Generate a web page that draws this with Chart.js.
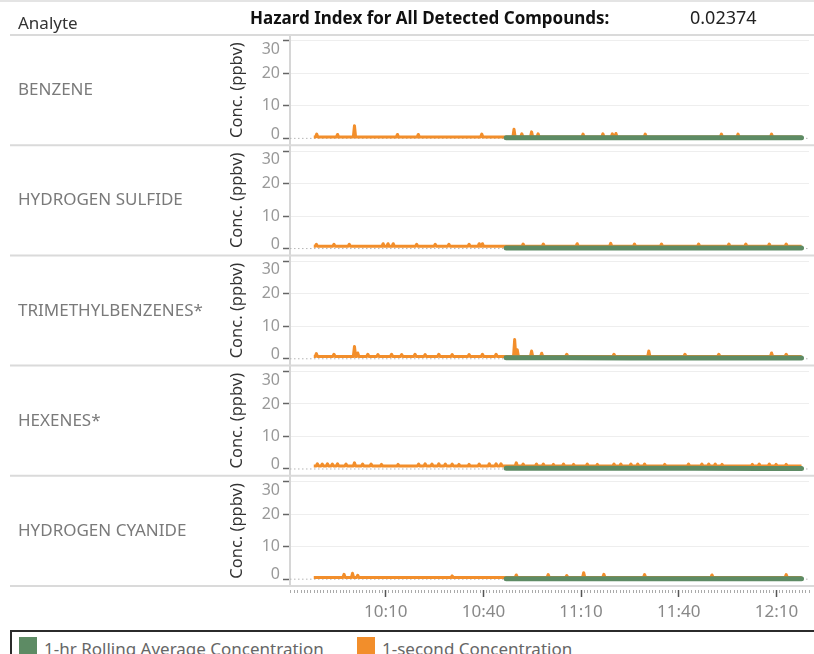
<!DOCTYPE html>
<html>
<head>
<meta charset="utf-8">
<script src="https://cdn.jsdelivr.net/npm/chart.js@4.4.1/dist/chart.umd.min.js"></script>
<style>
  html, body { margin: 0; padding: 0; background: #fff; }
  body { width: 814px; height: 654px; overflow: hidden; position: relative; font-family: 'Noto Sans', sans-serif; }
  #wrap { position: absolute; left: 0; top: 0; width: 814px; height: 630px; }
  .txt { position: absolute; white-space: nowrap; line-height: 1; z-index: 2; }
  .name { left: 18px; font-size: 17px; color: #7a7a7a; }
  #topline { position: absolute; left: 0; top: 0; width: 814px; height: 2px; background: #e4e4e4; }
  #legend { position: absolute; left: 10px; top: 630px; width: 820px; height: 40px; border-top: 2px solid #2b2b2b; border-left: 2px solid #2b2b2b; }
  .swatch { position: absolute; width: 18px; height: 18px; }
</style>
</head>
<body>
<div id="topline"></div>
<div class="txt" style="left:18px; top:14px; font-size:17px; color:#333;">Analyte</div>
<div class="txt" style="left:250px; top:9px; font-size:17px; font-weight:bold; color:#111;">Hazard Index for All Detected Compounds:</div>
<div class="txt" id="hazard" style="left:690px; top:8px; font-size:18px; color:#222;"></div>
<div id="names"></div>
<div id="wrap"><canvas id="chart"></canvas></div>
<div id="legend"></div>
<script>
// times are minutes after midnight
const hazardIndex = '0.02374';
const analytes = ['BENZENE', 'HYDROGEN SULFIDE', 'TRIMETHYLBENZENES*', 'HEXENES*', 'HYDROGEN CYANIDE'];
const oneSecondStart = 587.9;
const oneSecondEnd = 737.7;
const oneSecondBase = [0.4, 0.7, 0.7, 0.9, 0.5];

// [time, ppbv] peaks of the 1-second trace
const benzeneSpikes = [[588.8, 1.3], [595.2, 1.2], [600.4, 3.9], [613.6, 1.2], [620.0, 1.2], [639.5, 1.3], [649.4, 2.8], [651.8, 1.4], [654.8, 2.0], [656.8, 1.4], [670.6, 1.3], [676.7, 1.4], [679.6, 1.4], [680.7, 1.5], [689.7, 1.3], [713.1, 1.3], [718.2, 1.3], [728.5, 1.3]];
const h2sSpikes = [[588.7, 1.3], [594.1, 1.3], [598.8, 1.3], [609.2, 1.5], [610.7, 1.5], [612.3, 1.5], [619.5, 1.3], [625.2, 1.3], [629.4, 1.3], [635.6, 1.3], [638.7, 1.5], [639.7, 1.5], [652.2, 1.4], [658.4, 1.4], [668.8, 1.5], [679.1, 1.6], [686.4, 1.4], [694.7, 1.4], [706.1, 1.4], [715.4, 1.4], [720.6, 1.4], [727.8, 1.4], [733.0, 1.4]];
const tmbSpikes = [[588.7, 1.6], [594.1, 1.4], [600.4, 3.8], [601.4, 1.8], [604.5, 1.4], [607.6, 1.3], [611.8, 1.4], [614.9, 1.3], [619.0, 1.4], [622.1, 1.3], [626.3, 1.4], [630.4, 1.3], [635.6, 1.3], [639.7, 1.4], [643.9, 1.4], [649.6, 5.9], [650.4, 2.8], [654.8, 2.4], [657.9, 1.7], [665.6, 1.4], [680.1, 1.4], [690.8, 2.4], [701.9, 1.4], [712.3, 1.4], [728.5, 1.8], [733.0, 1.4]];
const hexeneSpikes = [[589.0, 1.6], [590.5, 1.5], [592.1, 1.6], [593.6, 1.5], [595.2, 1.6], [597.8, 1.5], [600.4, 1.9], [602.9, 1.5], [605.5, 1.5], [608.7, 1.4], [613.8, 1.4], [620.1, 1.5], [622.1, 1.6], [624.2, 1.5], [626.3, 1.6], [628.3, 1.5], [630.4, 1.5], [632.5, 1.4], [635.6, 1.4], [638.7, 1.5], [641.8, 1.6], [643.9, 1.6], [645.4, 1.6], [650.1, 1.9], [652.2, 1.5], [656.3, 1.5], [658.4, 1.5], [661.5, 1.4], [664.6, 1.5], [667.7, 1.4], [671.9, 1.5], [675.0, 1.4], [680.1, 1.5], [682.2, 1.5], [685.3, 1.5], [687.4, 1.5], [689.5, 1.5], [695.7, 1.4], [703.0, 1.5], [707.1, 1.5], [709.2, 1.5], [711.2, 1.5], [713.3, 1.4], [722.6, 1.4], [724.7, 1.5], [727.8, 1.5], [729.9, 1.4], [733.0, 1.4]];
const hcnSpikes = [[597.2, 1.5], [599.8, 1.8], [601.4, 1.2], [630.4, 1.0], [650.1, 1.3], [659.9, 1.4], [665.6, 1.1], [670.8, 2.0], [677.0, 1.5], [689.5, 1.4], [710.2, 1.3], [733.0, 1.4]];
const spikeSets = [benzeneSpikes, h2sSpikes, tmbSpikes, hexeneSpikes, hcnSpikes];

// 1-hr rolling average
const rollingTimes = [647.0, 665.0, 685.0, 705.0, 725.0, 737.7];
const benzeneRolling = [0.22, 0.21, 0.2, 0.19, 0.18, 0.18];
const h2sRolling = [0.15, 0.15, 0.15, 0.16, 0.16, 0.16];
const tmbRolling = [0.3, 0.28, 0.25, 0.24, 0.22, 0.22];
const hexeneRolling = [0.2, 0.2, 0.19, 0.19, 0.18, 0.18];
const hcnRolling = [0.12, 0.12, 0.12, 0.13, 0.13, 0.13];
const rollingSets = [benzeneRolling, h2sRolling, tmbRolling, hexeneRolling, hcnRolling];

const yTicks = [0, 10, 20, 30];
const xTickLabels = ['10:10', '10:40', '11:10', '11:40', '12:10'];
const xMin = 580.6, xMax = 740;
const yMin = -2.1, yMax = 31.8;

const greenColor = '#5d8b64';
const orangeColor = '#f28e2b';

function hhmm(m) {
    return Math.floor(m / 60) + ':' + String(m % 60).padStart(2, '0');
}
function tickName(v) {
    const m = Math.round(v);
    if (Math.abs(v - m) > 1e-6) return '';
    const s = hhmm(m);
    return xTickLabels.includes(s) ? s : '';
}

// Tableau keeps the end labels inside the row: top one hangs below its tick, bottom one sits above
const yTop = yTicks[yTicks.length - 1];
const yBottom = yTicks[0];
function yLabel(v) {
    if (v === yTop) return ['', String(v)];
    if (v === yBottom) return [String(v), ''];
    return String(v);
}
function yLabelFont(c) {
    const v = c.tick ? c.tick.value : null;
    const lh = v === yTop ? '17px' : v === yBottom ? '8.5px' : 1.2;
    return { size: 16, lineHeight: lh };
}

function oneSecondSeries(base, spikes) {
    const pts = [{ x: oneSecondStart, y: base }];
    spikes.forEach(([t, v]) => {
        pts.push({ x: t - 0.35, y: base }, { x: t, y: v }, { x: t + 0.35, y: base });
    });
    pts.push({ x: oneSecondEnd, y: base });
    return pts;
}

const panelIds = analytes.map((a, i) => 'y' + i);

const datasets = [];
analytes.forEach((name, i) => {
    datasets.push({
        label: name + ' 1-hr',
        yAxisID: panelIds[i],
        data: rollingTimes.map((t, k) => ({ x: t, y: rollingSets[i][k] })),
        borderColor: greenColor,
        borderWidth: 5,
        borderCapStyle: 'round',
        pointRadius: 0,
        order: 0,
    });
    datasets.push({
        label: name + ' 1-second',
        yAxisID: panelIds[i],
        data: oneSecondSeries(oneSecondBase[i], spikeSets[i]),
        borderColor: orangeColor,
        borderWidth: 3,
        borderJoinStyle: 'round',
        pointRadius: 0,
        order: 1,
    });
    datasets.push({
        label: name + ' zero',
        yAxisID: panelIds[i],
        data: [{ x: xMin, y: 0 }, { x: xMax, y: 0 }],
        borderColor: '#b5b5b5',
        borderWidth: 1,
        borderDash: [1.5, 2.5],
        pointRadius: 0,
        order: 2,
    });
});

const scales = {
    x: {
        type: 'linear',
        min: xMin,
        max: xMax,
        afterFit: s => { s.height = 44; },
        ticks: {
            stepSize: 1,
            autoSkip: false,
            maxRotation: 0,
            minRotation: 0,
            color: '#888',
            font: { size: 17 },
            padding: 5,
            callback: v => tickName(v),
        },
        grid: {
            drawOnChartArea: false,
            tickLength: 11,
            tickColor: c => tickName(c.tick.value) ? '#555' : '#aaa',
            tickWidth: c => tickName(c.tick.value) ? 1.5 : 1,
            tickBorderDash: c => tickName(c.tick.value) ? [0, 4, 7, 100] : [0, 4, 3, 100],
        },
        border: { display: false },
    },
};
panelIds.forEach((id, i) => {
    scales[id] = {
        type: 'linear',
        position: 'left',
        stack: 'panels',
        stackWeight: 1,
        weight: analytes.length - i,
        min: yMin,
        max: yMax,
        afterBuildTicks: s => { s.ticks = yTicks.map(v => ({ value: v })); },
        afterFit: s => { s.width = 65; },
        title: { display: true, text: 'Conc. (ppbv)', color: '#333', font: { size: 16.5 }, padding: { top: 2, bottom: 0 } },
        ticks: { color: '#999', font: yLabelFont, padding: 3, autoSkip: false, callback: v => yLabel(v) },
        grid: {
            color: c => (c.tick && c.tick.value === 0) ? 'rgba(0,0,0,0)' : '#eeeeee',
            tickColor: '#666',
            tickLength: 7,
            tickWidth: 1.5,
        },
        border: { color: '#d6d6d6', width: 2 },
    };
});

// light rules between the analyte rows
const rowRules = {
    id: 'rowRules',
    afterDraw(chart) {
        const ctx = chart.ctx;
        const edges = [chart.chartArea.top].concat(panelIds.map(id => chart.scales[id].bottom));
        ctx.save();
        ctx.strokeStyle = '#dadada';
        ctx.lineWidth = 2;
        edges.forEach(y => {
            ctx.beginPath();
            ctx.moveTo(10, y);
            ctx.lineTo(chart.width, y);
            ctx.stroke();
        });
        ctx.restore();
    }
};

Chart.defaults.font.family = "'Noto Sans', sans-serif";

const chart = new Chart(document.getElementById('chart'), {
    type: 'line',
    data: { datasets: datasets },
    options: {
        responsive: true,
        maintainAspectRatio: false,
        animation: false,
        layout: { padding: { left: 225, top: 35, right: 0, bottom: 0 } },
        plugins: { legend: { display: false }, tooltip: { enabled: false } },
        scales: scales,
    },
    plugins: [rowRules],
});

// analyte names, centred on their rows
document.getElementById('hazard').textContent = hazardIndex;
const namesDiv = document.getElementById('names');
analytes.forEach((name, i) => {
    const s = chart.scales[panelIds[i]];
    const el = document.createElement('div');
    el.className = 'txt name';
    el.textContent = name;
    el.style.top = ((s.top + s.bottom) / 2 - 10) + 'px';
    namesDiv.appendChild(el);
});

// legend
const legendItems = [['1-hr Rolling Average Concentration', greenColor, 7, 32], ['1-second Concentration', orangeColor, 345, 370]];
const legendDiv = document.getElementById('legend');
legendItems.forEach(([text, color, sx, tx]) => {
    const sw = document.createElement('div');
    sw.className = 'swatch';
    sw.style.left = sx + 'px';
    sw.style.top = '5px';
    sw.style.background = color;
    legendDiv.appendChild(sw);
    const t = document.createElement('div');
    t.className = 'txt';
    t.style.left = tx + 'px';
    t.style.top = '8px';
    t.style.fontSize = '17px';
    t.style.color = '#666';
    t.textContent = text;
    legendDiv.appendChild(t);
});
</script>
</body>
</html>
